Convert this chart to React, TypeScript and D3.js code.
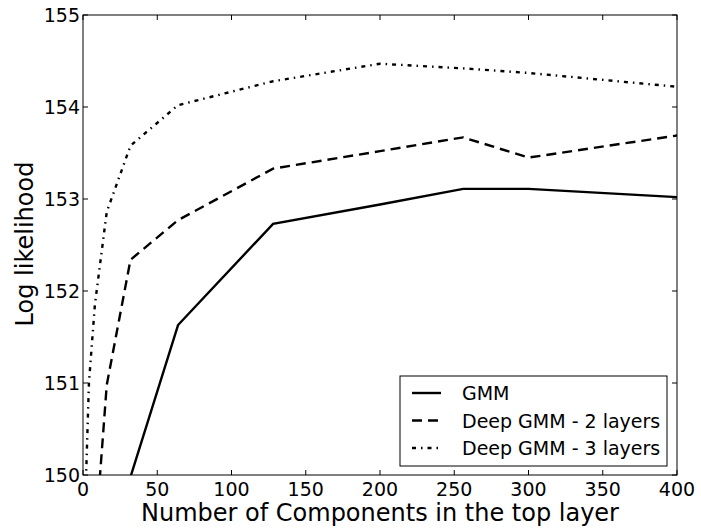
import React from "react";
import * as d3 from "d3";

// Number of mixture components in the top layer
const components = [2, 4, 8, 16, 32, 64, 128, 200, 256, 300, 400];

// Log likelihood per model (null = not evaluated)
const gmm: (number | null)[] = [null, null, null, null, 149.98, 151.63, 152.73, 152.94, 153.11, 153.11, 153.02];
const deep2: (number | null)[] = [null, null, 149.25, 150.98, 152.34, 152.77, 153.33, 153.52, 153.67, 153.45, 153.69];
const deep3: (number | null)[] = [149.95, 151.0, 151.85, 152.86, 153.58, 154.02, 154.28, 154.47, 154.42, 154.37, 154.22];

const xTicks = [0, 50, 100, 150, 200, 250, 300, 350, 400];
const yTicks = [150, 151, 152, 153, 154, 155];

const seriesNames = ["GMM", "Deep GMM - 2 layers", "Deep GMM - 3 layers"];

const W = 701;
const H = 530;
const M = { left: 83, right: 677, top: 15, bottom: 475 };
const FONT = "DejaVu Sans, sans-serif";

export default function App() {
  const x = d3.scaleLinear().domain([0, 400]).range([M.left, M.right]);
  const y = d3.scaleLinear().domain([150, 155]).range([M.bottom, M.top]);

  const line = d3
    .line<[number, number | null]>()
    .defined((d) => d[1] !== null)
    .x((d) => x(d[0]))
    .y((d) => y(d[1] as number));

  const series = [
    { name: seriesNames[0], values: gmm, dash: "none" },
    { name: seriesNames[1], values: deep2, dash: "10 6" },
    { name: seriesNames[2], values: deep3, dash: "4 5 1.5 5" },
  ];

  const tickLen = 5;
  const legend = { x: 400, y: 376, w: 267, h: 90 };

  return (
    <svg
      width={W}
      height={H}
      style={{ position: "absolute", left: 0, top: 0, background: "#fff" }}
      fontFamily={FONT}
    >
      <defs>
        <clipPath id="plot-clip">
          <rect x={M.left} y={M.top} width={M.right - M.left} height={M.bottom - M.top} />
        </clipPath>
      </defs>

      {/* data lines */}
      <g clipPath="url(#plot-clip)">
        {series.map((s) => (
          <path
            key={s.name}
            d={line(components.map((c, i) => [c, s.values[i]]) as [number, number | null][]) || ""}
            fill="none"
            stroke="#000"
            strokeWidth={2.4}
            strokeDasharray={s.dash}
            strokeLinejoin="miter"
          />
        ))}
      </g>

      {/* frame */}
      <rect
        x={M.left}
        y={M.top}
        width={M.right - M.left}
        height={M.bottom - M.top}
        fill="none"
        stroke="#000"
        strokeWidth={1}
      />

      {/* x ticks (inward, bottom and top) */}
      {xTicks.map((t) => (
        <g key={"x" + t}>
          <line x1={x(t)} x2={x(t)} y1={M.bottom} y2={M.bottom - tickLen} stroke="#000" />
          <line x1={x(t)} x2={x(t)} y1={M.top} y2={M.top + tickLen} stroke="#000" />
          <text x={x(t)} y={496} fontSize={19} textAnchor="middle" fill="#000">
            {t}
          </text>
        </g>
      ))}

      {/* y ticks (inward, left and right) */}
      {yTicks.map((t) => (
        <g key={"y" + t}>
          <line x1={M.left} x2={M.left + tickLen} y1={y(t)} y2={y(t)} stroke="#000" />
          <line x1={M.right} x2={M.right - tickLen} y1={y(t)} y2={y(t)} stroke="#000" />
          <text
            x={80}
            y={y(t)}
            fontSize={19}
            textAnchor="end"
            dominantBaseline="central"
            fill="#000"
          >
            {t}
          </text>
        </g>
      ))}

      {/* axis titles */}
      <text x={(M.left + M.right) / 2} y={521} fontSize={24} textAnchor="middle" fill="#000">
        Number of Components in the top layer
      </text>
      <text
        transform={`translate(25, ${(M.top + M.bottom) / 2 - 1}) rotate(-90)`}
        fontSize={24}
        textAnchor="middle"
        dominantBaseline="central"
        fill="#000"
      >
        Log likelihood
      </text>

      {/* legend */}
      <g>
        <rect
          x={legend.x}
          y={legend.y}
          width={legend.w}
          height={legend.h}
          fill="#fff"
          stroke="#000"
          strokeWidth={1}
        />
        {series.map((s, i) => {
          const cy = legend.y + 17 + i * 27.5;
          return (
            <g key={"lg" + s.name}>
              <line
                x1={412}
                x2={441}
                y1={cy}
                y2={cy}
                stroke="#000"
                strokeWidth={2.4}
                strokeDasharray={s.dash}
              />
              <text x={462} y={cy} fontSize={19} dominantBaseline="central" fill="#000">
                {s.name}
              </text>
            </g>
          );
        })}
      </g>
    </svg>
  );
}
